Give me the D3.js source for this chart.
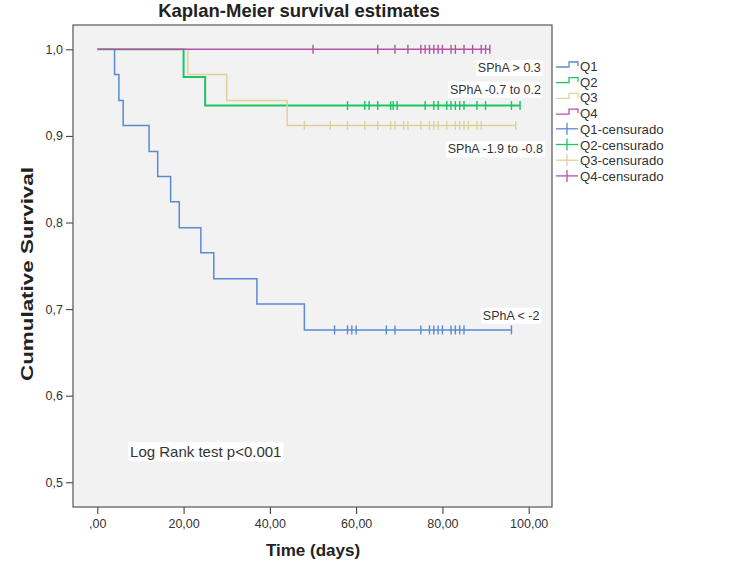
<!DOCTYPE html>
<html><head><meta charset="utf-8">
<script src="https://cdn.jsdelivr.net/npm/d3@7"></script>
<style>body{margin:0;background:#fff}svg{display:block}text{font-family:"Liberation Sans",Arial,sans-serif}</style>
</head><body><svg id="c" width="738" height="578"></svg>
<script>
// ---- data ----
const groups = ["Q1","Q2","Q3","Q4"];
const q1EventTimes = [4, 5, 6, 12, 14, 17, 19, 24, 27, 37, 48];
const q1Survival   = [0.971, 0.941, 0.912, 0.882, 0.853, 0.824, 0.794, 0.765, 0.735, 0.706, 0.676];
const q1Censored   = [55, 58, 59, 60, 67, 69, 75, 77, 78, 79, 80, 82, 83, 84, 85, 96];
const q2EventTimes = [20, 25];
const q2Survival   = [0.968, 0.935];
const q2Censored   = [58, 62, 63, 65, 68, 68.6, 69.5, 76, 78, 79, 81, 82, 83, 84, 85, 88, 90, 96, 98];
const q3EventTimes = [21, 30, 44];
const q3Survival   = [0.971, 0.941, 0.912];
const q3Censored   = [48, 54, 58, 62, 65, 68, 69, 71, 72, 75, 77, 78, 79, 81, 83, 84, 85, 86, 88, 89, 97];
const q4EventTimes = [];
const q4Survival   = [];
const q4Censored   = [50, 65, 69, 72, 75, 76, 77, 78, 79, 80, 82, 83, 85, 87, 89, 90, 91];
const xTicks = [0, 20, 40, 60, 80, 100];
const xTickLabels = [",00", "20,00", "40,00", "60,00", "80,00", "100,00"];
const yTicks = [0.5, 0.6, 0.7, 0.8, 0.9, 1.0];
const yTickLabels = ["0,5", "0,6", "0,7", "0,8", "0,9", "1,0"];
const curveLabels = [
  {text: "SPhA > 0.3", x: 102.8, y: 0.979},
  {text: "SPhA -0.7 to 0.2", x: 102.85, y: 0.954},
  {text: "SPhA -1.9 to -0.8", x: 103.3, y: 0.885},
  {text: "SPhA < -2", x: 102.5, y: 0.693}
];
const testLabel = {text: "Log Rank test p<0.001", x: 7.6, y: 0.534};
const legendLabels = ["Q1","Q2","Q3","Q4","Q1-censurado","Q2-censurado","Q3-censurado","Q4-censurado"];

// ---- styles ----
const colors = {Q1:"#5a8ad4", Q2:"#1cc462", Q3:"#e0d19a", Q4:"#b452aa"};
const widths = {Q1:1.5, Q2:2, Q3:1.5, Q4:1.5};

const series = [
  {key:"Q1", t:q1EventTimes, s:q1Survival, c:q1Censored},
  {key:"Q2", t:q2EventTimes, s:q2Survival, c:q2Censored},
  {key:"Q3", t:q3EventTimes, s:q3Survival, c:q3Censored},
  {key:"Q4", t:q4EventTimes, s:q4Survival, c:q4Censored}
];

const svg = d3.select("#c");
const frame = {l:73, r:552, t:25, b:507};
const x = d3.scaleLinear().domain([0,100]).range([97.3, 528.7]);
const y = d3.scaleLinear().domain([0.5,1.0]).range([482.3, 49.3]);

svg.append("rect").attr("x",frame.l).attr("y",frame.t).attr("width",frame.r-frame.l).attr("height",frame.b-frame.t)
  .attr("fill","#f2f2f2");

// title
svg.append("text").attr("x",299).attr("y",17).attr("text-anchor","middle")
  .attr("font-size",18.5).attr("font-weight","bold").attr("fill","#222").text("Kaplan-Meier survival estimates");

// axes
const xAxis = d3.axisBottom(x).tickValues(xTicks).tickFormat((d,i)=>xTickLabels[i]).tickSize(7).tickSizeOuter(0);
const gx = svg.append("g").attr("transform",`translate(0,${frame.b})`).call(xAxis);
gx.select(".domain").remove();
gx.selectAll("line").attr("stroke","#333");
gx.selectAll("text").attr("font-size",12.5).attr("fill","#333").attr("dy","0.85em").attr("font-family","Liberation Sans, Arial");

const yAxis = d3.axisLeft(y).tickValues(yTicks).tickFormat((d,i)=>yTickLabels[i]).tickSize(7).tickSizeOuter(0);
const gy = svg.append("g").attr("transform",`translate(${frame.l},0)`).call(yAxis);
gy.select(".domain").remove();
gy.selectAll("line").attr("stroke","#333");
gy.selectAll("text").attr("font-size",12.5).attr("fill","#333").attr("font-family","Liberation Sans, Arial");

// curves
const line = d3.line().x(d=>x(d[0])).y(d=>y(d[1])).curve(d3.curveStepAfter);
series.forEach(sr=>{
  const pts = [[0,1]];
  sr.t.forEach((t,i)=>pts.push([t, sr.s[i]]));
  const last = sr.s.length ? sr.s[sr.s.length-1] : 1;
  pts.push([d3.max(sr.c), last]);
  svg.append("path").attr("d",line(pts)).attr("fill","none")
    .attr("stroke",colors[sr.key]).attr("stroke-width",widths[sr.key]);
  const survAt = t => { let v = 1; sr.t.forEach((et,i)=>{ if (et<=t) v = sr.s[i]; }); return v; };
  svg.append("g").selectAll("line").data(sr.c).join("line")
    .attr("x1",d=>x(d)).attr("x2",d=>x(d))
    .attr("y1",d=>y(survAt(d))-4.5).attr("y2",d=>y(survAt(d))+4.5)
    .attr("stroke",colors[sr.key]).attr("stroke-width",1.4);
});

// frame
svg.append("rect").attr("x",frame.l).attr("y",frame.t).attr("width",frame.r-frame.l).attr("height",frame.b-frame.t)
  .attr("fill","none").attr("stroke","#555").attr("stroke-width",1.2);

// curve labels
function boxedText(o, anchor, size){
  const t = svg.append("text").attr("x",x(o.x)).attr("y",y(o.y)+4.5).attr("text-anchor",anchor)
    .attr("font-size",size).attr("fill","#333").text(o.text);
  const bb = t.node().getBBox();
  svg.insert("rect", () => t.node()).attr("x",bb.x-2).attr("y",bb.y-1).attr("width",bb.width+4).attr("height",bb.height+2).attr("fill","#fff");
}
curveLabels.forEach(o=>boxedText(o,"end",12.5));
boxedText(testLabel,"start",15);

// axis titles
svg.append("text").attr("x",313).attr("y",556).attr("text-anchor","middle")
  .attr("font-size",17).attr("font-weight","bold").attr("fill","#222").text("Time (days)");
svg.append("text").attr("transform","translate(33,274) rotate(-90)").attr("text-anchor","middle")
  .attr("font-size",17).attr("font-weight","bold").attr("fill","#222")
  .attr("textLength",214).attr("lengthAdjust","spacingAndGlyphs").text("Cumulative Survival");

// legend
const lg = svg.append("g").attr("transform","translate(556,66)");
legendLabels.forEach((lab,i)=>{
  const key = groups[i%4];
  const g = lg.append("g").attr("transform",`translate(0,${i*15.7})`);
  if (i<4) {
    g.append("path").attr("d","M0,1H13V-4H22V0").attr("fill","none").attr("stroke",colors[key]).attr("stroke-width",1.3);
  } else {
    g.append("line").attr("x1",0).attr("x2",22).attr("y1",0).attr("y2",0).attr("stroke",colors[key]).attr("stroke-width",1.3);
    g.append("line").attr("x1",11).attr("x2",11).attr("y1",-6).attr("y2",6).attr("stroke",colors[key]).attr("stroke-width",1.3);
  }
  g.append("text").attr("x",24).attr("y",5).attr("font-size",13.2).attr("fill","#333").text(lab);
});
</script></body></html>
